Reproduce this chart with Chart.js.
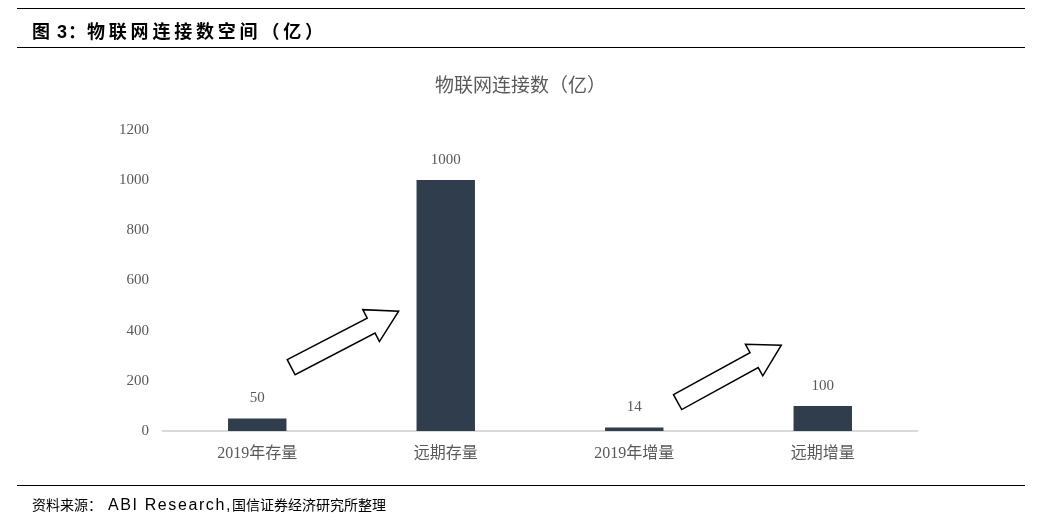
<!DOCTYPE html>
<html>
<head>
<meta charset="utf-8">
<script src="https://cdn.jsdelivr.net/npm/chart.js@4"></script>
<style>
  html, body { margin: 0; padding: 0; background: #fff; }
  #wrap { position: relative; width: 1041px; height: 521px; overflow: hidden; }
  #chart { position: absolute; left: 0; top: 0; }
  .rule { position: absolute; left: 17px; width: 1008px; height: 1px; background: #000; }
  #head { position: absolute; left: 32px; top: 17px; font: bold 18px "Liberation Sans", "Noto Sans CJK SC", sans-serif; color: #000; letter-spacing: 1px; white-space: nowrap; }
  #head .cn { letter-spacing: 3.8px; }
  #foot { position: absolute; left: 32px; top: 494px; font: 14px "Liberation Sans", "Noto Sans CJK SC", sans-serif; color: #000; white-space: nowrap; }
  #foot .en { font-size: 16px; letter-spacing: 1.6px; margin-left: 6px; }
</style>
</head>
<body>
<div id="wrap">
  <canvas id="chart" width="1041" height="521"></canvas>
  <div class="rule" style="top:8px"></div>
  <div id="head">图 3：<span class="cn">物联网连接数空间（亿）</span></div>
  <div class="rule" style="top:47px"></div>
  <div class="rule" style="top:485px"></div>
  <div id="foot">资料来源：<span class="en">ABI Research,</span>国信证券经济研究所整理</div>
</div>
<script>
// chart data
const categories = ['2019年存量', '远期存量', '2019年增量', '远期增量'];
const connections = [50, 1000, 14, 100];
const yTicks = [0, 200, 400, 600, 800, 1000, 1200];

// arrows: [tail category index, tail value, tip category index, tip value]
const arrows = [
    [0.18, 254, 0.75, 477],
    [2.23, 115, 2.78, 342]
];

const textColor = '#595959';
const serif = '"Liberation Serif", "Noto Sans CJK SC", serif';

// value labels above bars
const barLabels = {
    id: 'barLabels',
    afterDatasetsDraw(chart) {
        const ctx = chart.ctx;
        const meta = chart.getDatasetMeta(0);
        ctx.save();
        ctx.fillStyle = textColor;
        ctx.font = '15px ' + serif;
        ctx.textAlign = 'center';
        ctx.textBaseline = 'middle';
        meta.data.forEach((bar, i) => {
            ctx.fillText(connections[i], bar.x, bar.y - 20);
        });
        ctx.restore();
    }
};

// hollow arrows
const arrowPlugin = {
    id: 'arrowPlugin',
    afterDraw(chart) {
        const ctx = chart.ctx;
        const x = chart.scales.x, y = chart.scales.y;
        const pos = (i) => {
            // category index -> pixel (linear between categories)
            const a = Math.floor(i), f = i - a;
            const p0 = x.getPixelForValue(a), p1 = x.getPixelForValue(a + 1);
            return p0 + (p1 - p0) * f;
        };
        ctx.save();
        ctx.strokeStyle = '#000';
        ctx.fillStyle = '#fff';
        ctx.lineWidth = 1.5;
        ctx.lineJoin = 'miter';
        arrows.forEach(a => {
            const tx = pos(a[0]), ty = y.getPixelForValue(a[1]);
            const hx = pos(a[2]), hy = y.getPixelForValue(a[3]);
            const len = Math.hypot(hx - tx, hy - ty);
            const ang = Math.atan2(hy - ty, hx - tx);
            const sw = 8.5, hw = 18, hl = 31;
            const pts = [
                [0, -sw], [len - hl, -sw], [len - hl, -hw], [len, 0],
                [len - hl, hw], [len - hl, sw], [0, sw]
            ];
            ctx.beginPath();
            pts.forEach((p, k) => {
                const px = tx + p[0] * Math.cos(ang) - p[1] * Math.sin(ang);
                const py = ty + p[0] * Math.sin(ang) + p[1] * Math.cos(ang);
                if (k === 0) ctx.moveTo(px, py); else ctx.lineTo(px, py);
            });
            ctx.closePath();
            ctx.fill();
            ctx.stroke();
        });
        ctx.restore();
    }
};

new Chart(document.getElementById('chart'), {
    type: 'bar',
    data: {
        labels: categories,
        datasets: [{
            data: connections,
            backgroundColor: '#2F3D4C',
            categoryPercentage: 1,
            barPercentage: 0.31
        }]
    },
    options: {
        responsive: false,
        animation: false,
        layout: { padding: { left: 0, right: 0, top: 0, bottom: 50 } },
        plugins: {
            legend: { display: false },
            tooltip: { enabled: false },
            title: {
                display: true,
                text: '物联网连接数（亿）',
                color: textColor,
                font: { family: serif, size: 19, weight: 'normal' },
                padding: { top: 76, bottom: 31 }
            }
        },
        scales: {
            x: {
                grid: { display: false },
                border: { display: true, color: '#d9d9d9', width: 2 },
                ticks: { color: textColor, font: { family: serif, size: 16 }, padding: 5 },
                afterFit(s) { s.height = 40; }
            },
            y: {
                min: 0,
                max: 1200,
                afterBuildTicks(s) { s.ticks = yTicks.map(v => ({ value: v })); },
                grid: { display: false, drawTicks: false },
                border: { display: false },
                ticks: {
                    color: textColor,
                    font: { family: serif, size: 15 },
                    padding: 14,
                    callback: (v) => String(v)
                },
                afterFit(s) { s.width = 163; }
            },
            // empty right-hand spacer so the plot ends where the reference does
            spacer: {
                type: 'linear',
                position: 'right',
                display: true,
                grid: { display: false, drawTicks: false },
                border: { display: false },
                ticks: { display: false },
                afterFit(s) { s.width = 124; }
            }
        }
    },
    plugins: [barLabels, arrowPlugin]
});
</script>
</body>
</html>
